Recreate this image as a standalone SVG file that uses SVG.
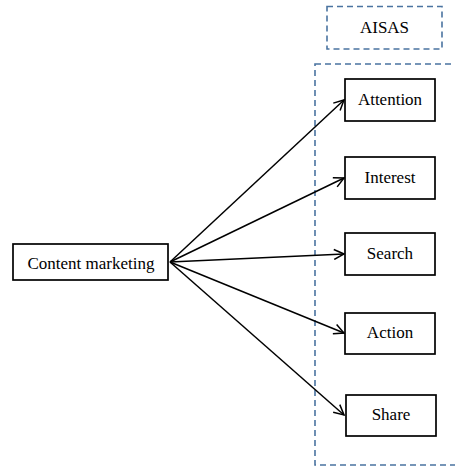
<svg xmlns="http://www.w3.org/2000/svg" width="455" height="468" viewBox="0 0 455 468">
  <defs>
    <style>
      .node rect { fill: #ffffff; stroke: #000000; stroke-width: 1.7; }
      .group { fill: none; stroke: #4a73a0; stroke-width: 1.6; stroke-dasharray: 6 4; }
      text { font-family: "Liberation Serif", "Times New Roman", serif; font-size: 17px; fill: #000000; text-anchor: middle; dominant-baseline: central; }
      .edge { stroke: #000000; stroke-width: 1.5; fill: none; marker-end: url(#arrow); }
    </style>
    <marker id="arrow" viewBox="0 0 12 12" refX="11" refY="6" markerWidth="12" markerHeight="12" markerUnits="userSpaceOnUse" orient="auto">
      <path d="M1,1 L11,6 L1,11" fill="none" stroke="#000000" stroke-width="1.5"/>
    </marker>
  </defs>
  <rect width="455" height="468" fill="#ffffff"/>

  <!-- AISAS grouping -->
  <g id="aisas-label">
    <rect class="group" x="327" y="6.5" width="115" height="42.5"/>
    <text x="384.5" y="27.5">AISAS</text>
  </g>
  <rect id="aisas-frame" class="group" x="315" y="64" width="150" height="401"/>

  <!-- connectors -->
  <g id="connectors">
    <line class="edge" x1="170" y1="262" x2="344" y2="100"/>
    <line class="edge" x1="170" y1="262" x2="344" y2="178"/>
    <line class="edge" x1="170" y1="262" x2="344" y2="254"/>
    <line class="edge" x1="170" y1="262" x2="344" y2="333"/>
    <line class="edge" x1="170" y1="262" x2="344" y2="415"/>
  </g>

  <g id="content-marketing" class="node">
    <rect x="13" y="244" width="155" height="36"/>
    <text x="91" y="263">Content marketing</text>
  </g>
  <g id="attention" class="node">
    <rect x="345" y="79" width="90" height="42"/>
    <text x="390" y="99">Attention</text>
  </g>
  <g id="interest" class="node">
    <rect x="345" y="157" width="90" height="42"/>
    <text x="390" y="177">Interest</text>
  </g>
  <g id="search" class="node">
    <rect x="345" y="233" width="90" height="42"/>
    <text x="390" y="253">Search</text>
  </g>
  <g id="action" class="node">
    <rect x="345" y="313" width="90" height="41"/>
    <text x="390" y="332">Action</text>
  </g>
  <g id="share" class="node">
    <rect x="346" y="395" width="90" height="41"/>
    <text x="391" y="414">Share</text>
  </g>
</svg>
